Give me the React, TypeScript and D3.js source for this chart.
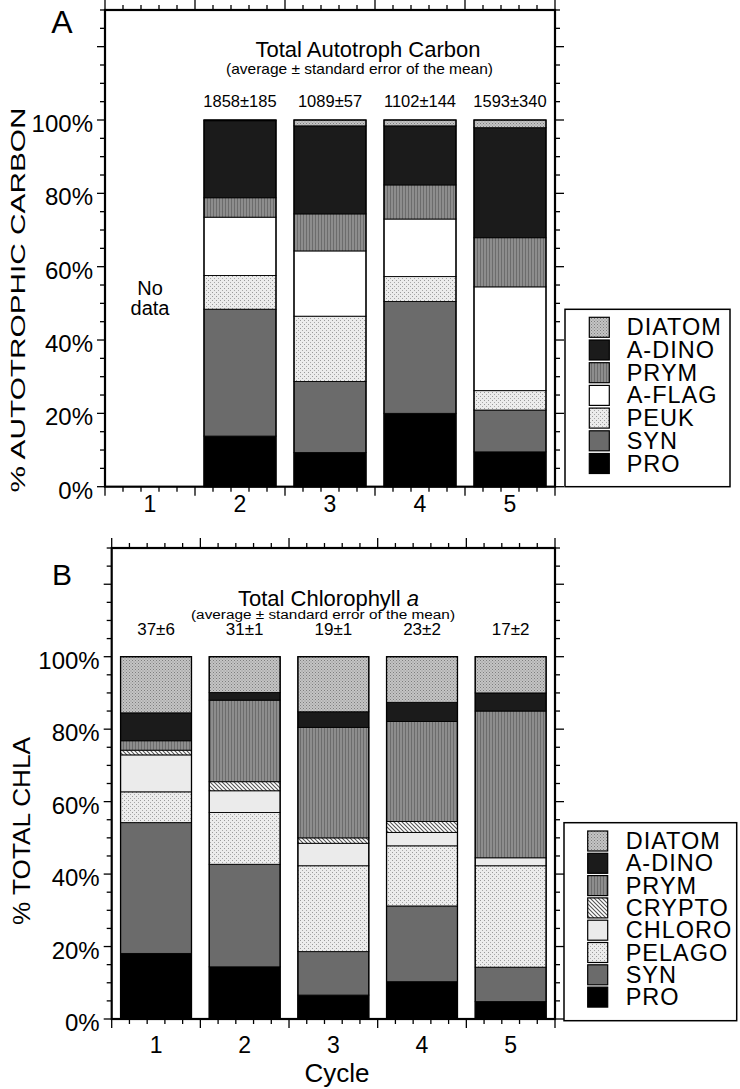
import React from 'react';
import * as d3 from 'd3';

// ---------- DATA ----------
const cycles = [1, 2, 3, 4, 5];
const yTickValues = [0, 20, 40, 60, 80, 100];

// Panel A: % autotrophic carbon (cycle 1: no data)
const keysA = ['PRO', 'SYN', 'PEUK', 'A-FLAG', 'PRYM', 'A-DINO', 'DIATOM'];
const hasDataA = [false, true, true, true, true];
const proA = [0, 13.8, 9.3, 20.0, 9.5];
const synA = [0, 34.6, 19.4, 30.5, 11.4];
const peukA = [0, 9.2, 17.8, 6.8, 5.3];
const aflagA = [0, 15.9, 17.8, 15.7, 28.3];
const prymA = [0, 5.3, 10.1, 9.3, 13.4];
const adinoA = [0, 21.0, 24.0, 16.1, 30.0];
const diatomA = [0, 0.2, 1.6, 1.6, 2.1];
const totalsA = ['', '1858±185', '1089±57', '1102±144', '1593±340'];

// Panel B: % total chlorophyll a
const keysB = ['PRO', 'SYN', 'PELAGO', 'CHLORO', 'CRYPTO', 'PRYM', 'A-DINO', 'DIATOM'];
const hasDataB = [true, true, true, true, true];
const proB = [18.1, 14.4, 6.6, 10.3, 4.8];
const synB = [36.1, 28.3, 12.0, 20.9, 9.5];
const pelagoB = [8.5, 14.3, 23.7, 16.6, 28.0];
const chloroB = [10.2, 6.0, 6.2, 3.7, 2.2];
const cryptoB = [1.3, 2.5, 1.5, 3.0, 0];
const prymB = [2.6, 22.5, 30.5, 27.6, 40.5];
const adinoB = [7.7, 2.1, 4.3, 5.3, 5.0];
const diatomB = [15.5, 9.9, 15.2, 12.6, 10.0];
const totalsB = ['37±6', '31±1', '19±1', '23±2', '17±2'];

const rowsA = cycles.map((c, i) => ({
  cycle: c, PRO: proA[i], SYN: synA[i], PEUK: peukA[i], 'A-FLAG': aflagA[i],
  PRYM: prymA[i], 'A-DINO': adinoA[i], DIATOM: diatomA[i],
}));
const rowsB = cycles.map((c, i) => ({
  cycle: c, PRO: proB[i], SYN: synB[i], PELAGO: pelagoB[i], CHLORO: chloroB[i],
  CRYPTO: cryptoB[i], PRYM: prymB[i], 'A-DINO': adinoB[i], DIATOM: diatomB[i],
}));

const FONT = '"Liberation Sans", Arial, Helvetica, sans-serif';

const fills: Record<string, string> = {
  PRO: '#000000',
  SYN: '#6b6b6b',
  PEUK: 'url(#pStip)',
  PELAGO: 'url(#pStip)',
  'A-FLAG': '#ffffff',
  CHLORO: '#ebebeb',
  CRYPTO: 'url(#pDiag)',
  PRYM: 'url(#pVert)',
  'A-DINO': '#1b1b1b',
  DIATOM: 'url(#pCross)',
};

function Panel(p: any) {
  const x = d3.scaleLinear().domain([0.5, 5.5]).range([p.x0, p.x1]);
  const y = d3.scaleLinear().domain([0, 100]).range([p.y0, p.y100]);
  const yTop = y(130);
  const bw = 0.8 * (x(1) - x(0));
  const series = d3.stack<any>().keys(p.keys)(p.rows);

  const yMinor = d3.range(0, 131, 5);
  const xMinor = d3.range(0.5, 5.51, 0.2).map((v) => Math.round(v * 10) / 10);

  const legendKeys = [...p.keys].reverse();
  return (
    <g>
      {/* bars */}
      {cycles.map((c, i) => {
        if (!p.hasData[i]) return null;
        return (
          <g key={c}>
            {series.map((s) => {
              const d = s[i];
              const h = y(d[0]) - y(d[1]);
              if (h <= 0.01) return null;
              return (
                <rect key={s.key} x={x(c) - bw / 2} y={y(d[1])} width={bw} height={h}
                  fill={fills[s.key]} stroke="#000" strokeWidth={0.9} />
              );
            })}
            <rect x={x(c) - bw / 2} y={y(100)} width={bw} height={y(0) - y(100)}
              fill="none" stroke="#000" strokeWidth={1.3} />
            <text x={x(c)} y={p.totalsY} textAnchor="middle" fontSize={p.totalsSize}
              fontFamily={FONT}>{p.totals[i]}</text>
          </g>
        );
      })}

      {/* frame */}
      <rect x={p.x0} y={yTop} width={p.x1 - p.x0} height={p.y0 - yTop}
        fill="none" stroke="#000" strokeWidth={2.2} />

      {/* y ticks left/right */}
      {yMinor.map((v) => {
        const major = v % 20 === 0;
        const len = major ? 8 : 5;
        return (
          <g key={'y' + v}>
            <line x1={p.x0 - len} x2={p.x0} y1={y(v)} y2={y(v)} stroke="#000" strokeWidth={1.3} />
            <line x1={p.x1} x2={p.x1 + (major ? 9 : 5)} y1={y(v)} y2={y(v)} stroke="#000" strokeWidth={1.3} />
          </g>
        );
      })}
      {/* x ticks bottom/top */}
      {xMinor.map((v) => {
        const major = Math.abs((v - 0.5) - Math.round(v - 0.5)) < 0.01;
        return (
          <g key={'x' + v}>
            <line x1={x(v)} x2={x(v)} y1={p.y0} y2={p.y0 + (major ? 9 : 5)} stroke="#000" strokeWidth={1.3} />
            <line x1={x(v)} x2={x(v)} y1={yTop} y2={yTop - (major ? 10 : 5)} stroke="#000" strokeWidth={1.3} />
          </g>
        );
      })}

      {/* y tick labels */}
      {yTickValues.map((v) => (
        <text key={'yl' + v} x={p.x0 - 12} y={y(v) + 12} textAnchor="end" fontSize={24}
          fontFamily={FONT}>{v + '%'}</text>
      ))}
      {/* x tick labels */}
      {cycles.map((c) => (
        <text key={'xl' + c} x={x(c)} y={p.xLabelY} textAnchor="middle" fontSize={23}
          fontFamily={FONT}>{c}</text>
      ))}

      {/* y axis title */}
      <text transform={`translate(${p.yTitleX},${p.yTitleY}) rotate(-90)`} textAnchor="middle"
        fontSize={p.yTitleSize} fontFamily={FONT} textLength={p.yTitleLen}
        lengthAdjust="spacingAndGlyphs">{p.yTitle}</text>

      {/* panel letter */}
      <text x={p.letterX} y={p.letterY} textAnchor="middle" fontSize={p.letterSize}
        fontFamily={FONT}>{p.letter}</text>

      {/* titles */}
      <text x={p.titleX} y={p.titleY} textAnchor="middle" fontSize={22} fontFamily={FONT}>
        {p.title}
        {p.titleItalic ? <tspan fontStyle="italic">{p.titleItalic}</tspan> : null}
      </text>
      <text x={p.subX} y={p.subY} textAnchor="middle" fontSize={p.subSize} fontFamily={FONT}
        textLength={p.subLen} lengthAdjust="spacingAndGlyphs">
        (average ± standard error of the mean)
      </text>

      {/* legend */}
      <rect x={p.lg.x} y={p.lg.y} width={p.lg.w} height={p.lg.h} fill="#fff"
        stroke="#000" strokeWidth={1.5} />
      {legendKeys.map((k: string, i: number) => (
        <g key={'lg' + k}>
          <rect x={p.lg.swX} y={p.lg.swY + i * p.lg.step} width={20} height={20}
            fill={fills[k]} stroke="#000" strokeWidth={1.2} />
          <text x={p.lg.labX} y={p.lg.swY + i * p.lg.step + 18} fontSize={23.5}
            letterSpacing={1} fontFamily={FONT}>{k}</text>
        </g>
      ))}
    </g>
  );
}

export default function App() {
  return (
    <svg width={740} height={1089} viewBox="0 0 740 1089"
      style={{ position: 'absolute', left: 0, top: 0, background: '#fff' }}>
      <defs>
        <pattern id="pCross" patternUnits="userSpaceOnUse" width={3} height={3}>
          <rect width={3} height={3} fill="#c4c4c4" />
          <rect x={0} y={0} width={1} height={1} fill="#7e7e7e" />
          <rect x={1.5} y={1.5} width={1} height={1} fill="#8e8e8e" />
        </pattern>
        <pattern id="pVert" patternUnits="userSpaceOnUse" width={3} height={3}>
          <rect width={3} height={3} fill="#8d8d8d" />
          <rect x={0} y={0} width={1} height={3} fill="#6c6c6c" />
        </pattern>
        <pattern id="pStip" patternUnits="userSpaceOnUse" width={4} height={4}>
          <rect width={4} height={4} fill="#ececec" />
          <rect x={0} y={0} width={1} height={1} fill="#9a9a9a" />
          <rect x={2} y={2} width={1} height={1} fill="#a8a8a8" />
        </pattern>
        <pattern id="pDiag" patternUnits="userSpaceOnUse" width={4} height={4}>
          <rect width={4} height={4} fill="#ffffff" />
          <path d="M-1,-1 L5,5 M3,-1 L5,1 M-1,3 L1,5" stroke="#555" strokeWidth={1.1} />
        </pattern>
      </defs>

      <Panel
        x0={105} x1={555} y0={486.7} y100={120}
        keys={keysA} rows={rowsA} hasData={hasDataA} totals={totalsA}
        totalsY={107} totalsSize={16.5}
        letter="A" letterX={62} letterY={33} letterSize={32}
        title="Total Autotroph Carbon" titleX={368} titleY={57}
        subX={359.5} subY={74} subSize={14.5} subLen={267}
        xLabelY={511.5}
        yTitle="% AUTOTROPHIC CARBON" yTitleX={25} yTitleY={300} yTitleSize={21} yTitleLen={385}
        lg={{ x: 565, y: 309.3, w: 165, h: 177.4, swX: 589.3, swY: 317.3, step: 22.7, labX: 626.7 }}
      />
      <text x={150} y={295} textAnchor="middle" fontSize={20} fontFamily={FONT}>No</text>
      <text x={150} y={315} textAnchor="middle" fontSize={20} fontFamily={FONT}>data</text>

      <Panel
        x0={111.7} x1={555} y0={1019} y100={656.7}
        keys={keysB} rows={rowsB} hasData={hasDataB} totals={totalsB}
        totalsY={635.3} totalsSize={17}
        letter="B" letterX={62} letterY={585} letterSize={30}
        title="Total Chlorophyll " titleItalic="a" titleX={328.5} titleY={605.5}
        subX={323} subY={618.5} subSize={12.5} subLen={264}
        xLabelY={1053}
        yTitle="% TOTAL CHLA" yTitleX={30} yTitleY={831} yTitleSize={24} yTitleLen={188}
        lg={{ x: 564, y: 822.7, w: 172.7, h: 198, swX: 587.7, swY: 831, step: 22.3, labX: 625.7 }}
      />
      <text x={337} y={1081.7} textAnchor="middle" fontSize={26} fontFamily={FONT}>Cycle</text>
    </svg>
  );
}
